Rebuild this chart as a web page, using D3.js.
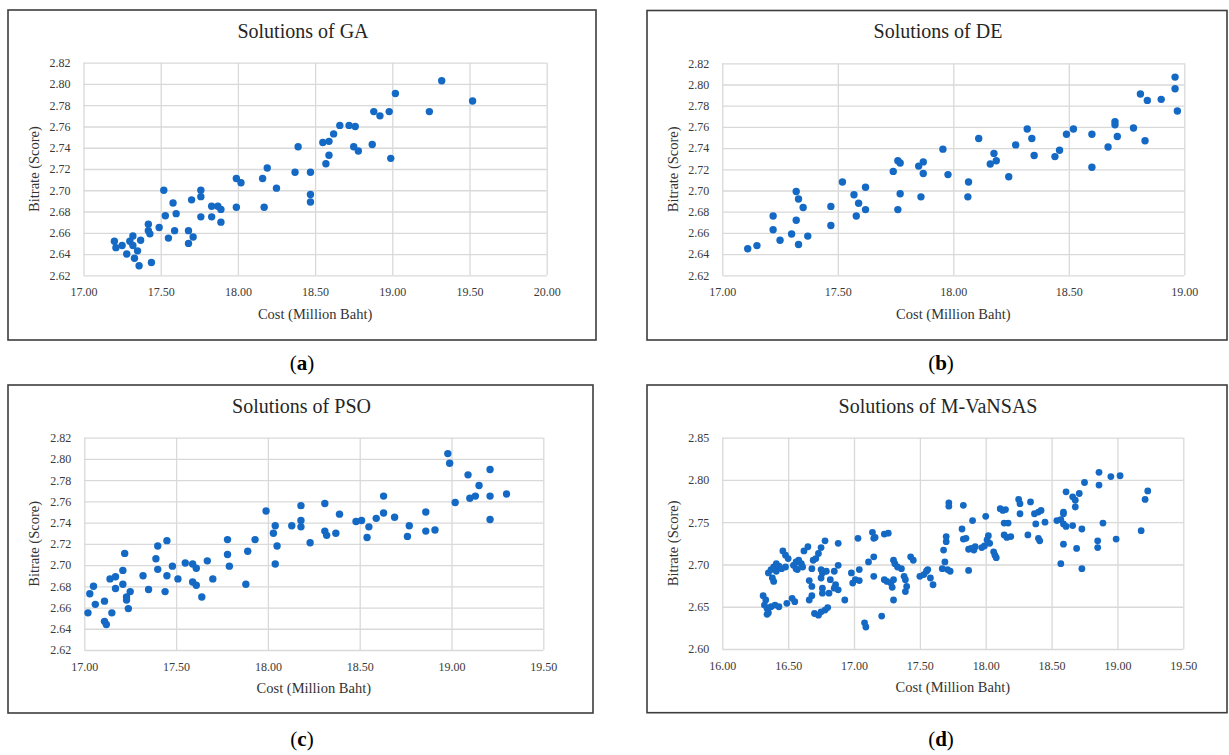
<!DOCTYPE html>
<html>
<head>
<meta charset="utf-8">
<script src="https://cdn.jsdelivr.net/npm/d3@7"></script>
<style>
  body { margin: 0; background: #fff; }
  svg { display: block; }
  text { font-family: "Liberation Serif", "Times New Roman", serif; }
</style>
</head>
<body>
<div id="chart"></div>
<script>
// Data

// (a) GA
const gaCost = [17.20,17.21,17.25,17.28,17.30,17.32,17.32,17.33,17.35,17.36,
  17.37,17.42,17.42,17.43,17.44,17.49,17.52,17.53,17.55,17.58,
  17.60,17.59,17.68,17.68,17.70,17.71,17.76,17.76,17.76,17.83,
  17.83,17.87,17.89,17.89,17.99,18.02,17.99,18.16,18.19,18.17,
  18.25,18.37,18.39,18.47,18.47,18.47,18.55,18.59,18.57,18.59,
  18.62,18.66,18.72,18.76,18.75,18.78,18.87,18.88,18.92,18.98,
  18.99,19.02,19.24,19.32,19.52];
const gaBitrate = [2.652,2.646,2.648,2.640,2.652,2.657,2.648,2.636,2.643,2.629,
  2.653,2.668,2.662,2.659,2.632,2.665,2.700,2.676,2.655,2.688,
  2.678,2.662,2.662,2.650,2.691,2.656,2.700,2.694,2.675,2.685,
  2.675,2.685,2.682,2.670,2.711,2.707,2.684,2.711,2.721,2.684,
  2.702,2.717,2.741,2.717,2.696,2.689,2.745,2.746,2.725,2.733,
  2.753,2.761,2.761,2.760,2.741,2.737,2.743,2.774,2.770,2.774,
  2.730,2.791,2.774,2.803,2.784];

// (b) DE
const deCost = [17.11,17.15,17.22,17.22,17.25,17.30,17.32,17.33,17.32,17.33,
  17.35,17.37,17.47,17.47,17.52,17.57,17.59,17.58,17.62,17.62,
  17.74,17.76,17.77,17.77,17.76,17.85,17.86,17.87,17.87,
  17.955,17.977,18.066,18.063,18.11,18.16,18.176,18.186,18.24,18.27,
  18.32,18.34,18.35,18.44,18.46,18.49,18.52,18.60,18.60,18.67,
  18.70,18.70,18.71,18.78,18.81,18.84,18.83,18.90,18.96,18.96,18.97];
const deBitrate = [2.645,2.648,2.676,2.663,2.653,2.659,2.699,2.692,2.672,2.649,
  2.684,2.657,2.685,2.667,2.708,2.696,2.688,2.676,2.703,2.682,
  2.718,2.728,2.726,2.697,2.682,2.723,2.694,2.727,2.716,
  2.739,2.715,2.708,2.694,2.749,2.725,2.735,2.728,2.713,2.743,
  2.758,2.749,2.733,2.732,2.738,2.753,2.758,2.753,2.722,2.741,
  2.765,2.762,2.751,2.759,2.791,2.785,2.747,2.786,2.807,2.796,2.775];

// (c) PSO
const psoCost = [17.02,17.03,17.05,17.06,17.11,17.11,17.12,17.15,17.14,17.17,
  17.17,17.21,17.21,17.22,17.23,17.23,17.24,17.25,17.32,17.35,
  17.39,17.40,17.40,17.44,17.45,17.45,17.48,17.51,17.55,17.59,
  17.59,17.61,17.61,17.64,17.67,17.70,17.78,17.78,17.79,17.88,
  17.89,17.93,17.99,18.03,18.04,18.05,18.04,18.13,18.18,18.18,
  18.18,18.23,
  18.31,18.31,18.32,18.37,18.39,18.48,18.51,18.54,
  18.55,18.59,18.63,18.63,18.69,18.76,18.77,18.86,18.86,18.91,
  18.98,18.99,19.02,19.09,19.10,19.13,19.15,19.21,19.21,19.21,19.30];
const psoBitrate = [2.655,2.673,2.680,2.663,2.666,2.647,2.644,2.655,2.687,2.689,
  2.678,2.695,2.682,2.711,2.670,2.667,2.659,2.675,2.690,2.677,
  2.706,2.718,2.696,2.675,2.690,2.723,2.699,2.687,2.702,2.701,
  2.684,2.681,2.697,2.670,2.704,2.687,2.724,2.710,2.699,2.682,
  2.713,2.724,2.751,2.730,2.737,2.718,2.701,2.737,2.756,2.742,
  2.736,2.721,
  2.758,2.732,2.728,2.730,2.748,2.741,2.742,2.726,
  2.736,2.744,2.765,2.749,2.745,2.727,2.737,2.750,2.732,2.733,
  2.805,2.796,2.759,2.785,2.763,2.765,2.775,2.790,2.765,2.743,2.767];

// (d) M-VaNSAS
const mvCost = [16.31,16.33,16.32,16.34,16.35,16.37,16.40,16.43,16.34,16.35,
  16.37,16.39,16.41,16.43,16.45,16.38,16.39,16.41,16.48,16.46,
  16.48,16.50,16.54,16.56,16.58,16.60,16.57,16.61,16.56,16.62,
  16.65,16.69,16.68,16.71,16.73,16.75,16.78,16.88,16.49,16.53,
  16.55,16.68,16.66,16.66,16.68,16.75,16.76,16.75,16.79,16.82,
  16.85,16.88,16.86,16.88,16.85,16.76,16.76,16.81,16.93,16.70,
  16.73,16.75,16.78,16.80,16.98,17.04,16.99,17.01,17.04,17.03,
  17.14,17.15,17.16,17.23,17.26,17.11,17.15,17.15,17.08,17.09,
  17.21,17.30,17.23,17.25,17.28,17.29,17.30,17.30,17.31,17.33,
  17.36,17.38,17.39,17.40,17.39,17.43,17.45,17.50,17.53,17.55,
  17.56,17.58,17.60,17.68,17.69,17.67,17.70,17.70,17.71,17.73,
  17.72,17.72,17.83,17.82,17.83,17.85,17.87,17.90,17.87,17.89,
  17.91,17.92,18.00,18.02,18.01,17.99,17.97,18.03,18.06,18.07,
  18.08,18.11,18.13,18.15,18.14,18.17,18.14,18.16,18.19,18.25,
  18.26,18.26,18.34,18.37,18.40,18.42,18.38,18.45,18.32,18.40,
  18.41,18.54,18.57,18.59,18.59,18.59,18.61,18.66,18.61,18.66,
  18.68,18.68,18.71,18.75,18.73,18.59,18.69,18.57,18.73,18.86,
  18.86,18.95,19.02,18.89,18.85,18.85,18.99,19.23,19.21,19.18];
const mvBitrate = [2.663,2.658,2.652,2.648,2.643,2.650,2.652,2.650,2.641,2.690,
  2.694,2.697,2.701,2.698,2.695,2.684,2.680,2.692,2.697,2.716,
  2.711,2.707,2.699,2.703,2.705,2.701,2.694,2.697,2.695,2.716,
  2.721,2.705,2.695,2.707,2.713,2.720,2.728,2.725,2.654,2.660,
  2.656,2.663,2.658,2.681,2.674,2.694,2.690,2.684,2.692,2.682,
  2.692,2.699,2.676,2.670,2.672,2.672,2.666,2.666,2.658,2.642,
  2.640,2.644,2.646,2.649,2.690,2.694,2.678,2.682,2.681,2.731,
  2.738,2.731,2.732,2.736,2.737,2.703,2.709,2.686,2.631,2.626,
  2.639,2.658,2.682,2.680,2.678,2.673,2.682,2.705,2.701,2.697,
  2.695,2.686,2.682,2.674,2.668,2.709,2.705,2.686,2.688,2.692,
  2.694,2.684,2.676,2.717,2.703,2.695,2.733,2.727,2.694,2.692,
  2.773,2.769,2.770,2.742,2.730,2.731,2.693,2.752,2.718,2.719,
  2.717,2.721,2.757,2.734,2.729,2.722,2.720,2.725,2.715,2.711,
  2.708,2.766,2.764,2.765,2.749,2.749,2.735,2.732,2.733,2.777,
  2.772,2.760,2.774,2.760,2.762,2.764,2.748,2.750,2.735,2.731,
  2.728,2.752,2.753,2.762,2.760,2.748,2.745,2.746,2.786,2.780,
  2.776,2.768,2.784,2.797,2.742,2.724,2.719,2.701,2.695,2.809,
  2.794,2.804,2.805,2.749,2.728,2.720,2.730,2.787,2.777,2.740];

// Axis ticks
const xTicksA = [17.00, 17.50, 18.00, 18.50, 19.00, 19.50, 20.00];
const xTicksB = [17.00, 17.50, 18.00, 18.50, 19.00];
const xTicksC = [17.00, 17.50, 18.00, 18.50, 19.00, 19.50];
const xTicksD = [16.00, 16.50, 17.00, 17.50, 18.00, 18.50, 19.00, 19.50];
const yTicksABC = [2.62, 2.64, 2.66, 2.68, 2.70, 2.72, 2.74, 2.76, 2.78, 2.80, 2.82];
const yTicksD = [2.60, 2.65, 2.70, 2.75, 2.80, 2.85];

// Panel layout (pixel boxes) - kept separate from the data
const panels = [
  {title: "Solutions of GA", caption: "a", cost: gaCost, bitrate: gaBitrate,
   xTicks: xTicksA, yTicks: yTicksABC,
   box: [8, 10, 596, 340], plot: [83.5, 62.7, 546.7, 275.3], cap: [302, 365], r: 3.7},
  {title: "Solutions of DE", caption: "b", cost: deCost, bitrate: deBitrate,
   xTicks: xTicksB, yTicks: yTicksABC,
   box: [647, 10.5, 1227, 340], plot: [722.3, 63.3, 1184.3, 275.3], cap: [941, 365], r: 3.7},
  {title: "Solutions of PSO", caption: "c", cost: psoCost, bitrate: psoBitrate,
   xTicks: xTicksC, yTicks: yTicksABC,
   box: [8, 385, 593, 713], plot: [84.3, 437.7, 543.3, 650], cap: [302, 741], r: 3.7},
  {title: "Solutions of M-VaNSAS", caption: "d", cost: mvCost, bitrate: mvBitrate,
   xTicks: xTicksD, yTicks: yTicksD,
   box: [647, 385, 1227, 712.7], plot: [722.3, 437.7, 1183.3, 649], cap: [941, 741], r: 3.4}
];

const dotColor = "#1469c4";
const gridColor = "#d9d9d9";
const fmt = d3.format(".2f");

const svg = d3.select("#chart")
  .append("svg")
  .attr("width", 1229)
  .attr("height", 755);

panels.forEach(p => {
  const [bx0, by0, bx1, by1] = p.box;
  const [px0, py0, px1, py1] = p.plot;
  const g = svg.append("g");

  // Outer frame
  g.append("rect")
    .attr("x", bx0).attr("y", by0)
    .attr("width", bx1 - bx0).attr("height", by1 - by0)
    .attr("fill", "#fff")
    .attr("stroke", "#3d3d3d")
    .attr("stroke-width", 1.6);

  const x = d3.scaleLinear()
    .domain(d3.extent(p.xTicks))
    .range([px0, px1]);
  const y = d3.scaleLinear()
    .domain(d3.extent(p.yTicks))
    .range([py1, py0]);

  // Vertical gridlines + x tick labels
  const xAxis = g.append("g")
    .attr("transform", `translate(0,${py1})`)
    .call(d3.axisBottom(x).tickValues(p.xTicks).tickFormat(fmt)
      .tickSize(-(py1 - py0)).tickPadding(12));
  xAxis.select(".domain").remove();

  // Horizontal gridlines + y tick labels
  const yAxis = g.append("g")
    .attr("transform", `translate(${px0},0)`)
    .call(d3.axisLeft(y).tickValues(p.yTicks).tickFormat(fmt)
      .tickSize(-(px1 - px0)).tickPadding(13));
  yAxis.select(".domain").remove();

  g.selectAll(".tick line")
    .attr("stroke", gridColor)
    .attr("stroke-width", 1.3);
  g.selectAll(".tick text")
    .attr("fill", "#3a3a3a")
    .style("font-size", "12px")
    .style("font-family", "'Liberation Serif', serif");

  // Points
  g.append("g")
    .selectAll("circle")
    .data(p.cost.map((c, i) => ({cost: c, bitrate: p.bitrate[i]})))
    .enter()
    .append("circle")
    .attr("cx", d => x(d.cost))
    .attr("cy", d => y(d.bitrate))
    .attr("r", p.r)
    .attr("fill", dotColor);

  // Title
  g.append("text")
    .attr("x", (bx0 + bx1) / 2 + 1)
    .attr("y", by0 + 23)
    .attr("text-anchor", "middle")
    .attr("dominant-baseline", "middle")
    .attr("fill", "#262626")
    .style("font-size", "20px")
    .text(p.title);

  // X axis title
  g.append("text")
    .attr("x", (px0 + px1) / 2)
    .attr("y", py1 + 40)
    .attr("text-anchor", "middle")
    .attr("dominant-baseline", "middle")
    .attr("fill", "#333")
    .style("font-size", "14.5px")
    .text("Cost (Million Baht)");

  // Y axis title
  g.append("text")
    .attr("transform", `translate(${bx0 + 27.5},${(py0 + py1) / 2}) rotate(-90)`)
    .attr("text-anchor", "middle")
    .attr("dominant-baseline", "middle")
    .attr("fill", "#333")
    .style("font-size", "14.5px")
    .text("Bitrate (Score)");

  // Sub-figure caption, e.g. (a)
  const cap = svg.append("text")
    .attr("x", p.cap[0])
    .attr("y", p.cap[1])
    .attr("text-anchor", "middle")
    .attr("dominant-baseline", "middle")
    .attr("fill", "#000")
    .style("font-size", "21px");
  cap.append("tspan").text("(");
  cap.append("tspan").style("font-weight", "bold").text(p.caption);
  cap.append("tspan").text(")");
});
</script>
</body>
</html>
